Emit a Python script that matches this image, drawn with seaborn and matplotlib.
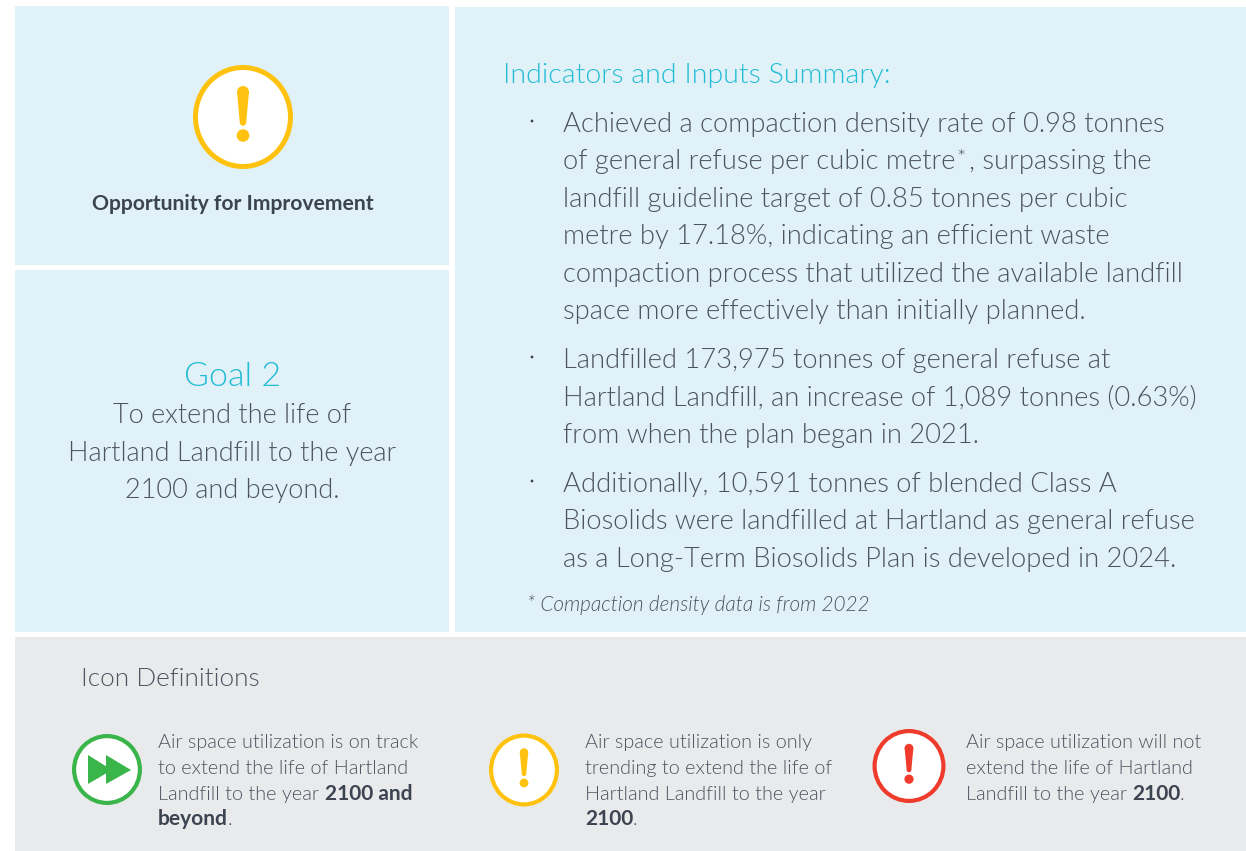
# %%
import matplotlib
matplotlib.use("Agg")
import matplotlib.pyplot as plt
import seaborn as sns
from matplotlib.patches import Rectangle, Circle, Polygon, Ellipse

# %%
# text of the page
summary_title = "Indicators and Inputs Summary:"
bullet_1 = ["Achieved a compaction density rate of 0.98 tonnes",
            "of general refuse per cubic metre",
            "landfill guideline target of 0.85 tonnes per cubic",
            "metre by 17.18%, indicating an efficient waste",
            "compaction process that utilized the available landfill",
            "space more effectively than initially planned."]
bullet_2 = ["Landfilled 173,975 tonnes of general refuse at",
            "Hartland Landfill, an increase of 1,089 tonnes (0.63%)",
            "from when the plan began in 2021."]
bullet_3 = ["Additionally, 10,591 tonnes of blended Class A",
            "Biosolids were landfilled at Hartland as general refuse",
            "as a Long-Term Biosolids Plan is developed in 2024."]
goal_lines = ["To extend the life of", "Hartland Landfill to the year", "2100 and beyond."]

BLUE = "#e0f2f7"
GREY = "#e9eaec"
TEAL = "#22bcd6"
DARK = "#3d4451"
TXT = "#4d5360"
YEL = "#ffc20e"
GRN = "#39b54a"
RED = "#ef3b2c"

# %%
sns.set_theme(style="white")
plt.rcParams["font.family"] = ["Lato", "DejaVu Sans"]

fig = plt.figure(figsize=(12.46, 8.51), dpi=100, facecolor="white")
ax = fig.add_axes([0, 0, 1, 1])
ax.set_xlim(0, 1246)
ax.set_ylim(851, 0)
ax.axis("off")

# background panels
for x0, y0, x1, y1, c in [(15, 6, 449, 264.5, BLUE), (15, 270, 449, 632, BLUE),
                          (455, 7, 1246, 632, BLUE), (15, 637, 1246, 851, GREY)]:
    ax.add_patch(Rectangle((x0, y0), x1 - x0, y1 - y0, fc=c, ec="none"))


def txt(x, y, s, size, color=TXT, weight=300, **kw):
    return ax.text(x, y, s, fontsize=size, color=color, fontweight=weight, va="baseline", **kw)


def ring(cx, cy, w, h, color, lw):
    # w and h are the outer size in pixels, lw in points
    d = lw / 0.72
    ax.add_patch(Ellipse((cx, cy), w - d, h - d, fc="white", ec=color, lw=lw))


def bang(cx, cy, w, h, color, lw):
    ring(cx, cy, w, h, color, lw)
    k = w / 100
    ky = h / 104
    s = 6 * k
    ax.add_patch(Polygon([(cx - s, cy - 25 * ky), (cx + s, cy - 25 * ky),
                          (cx + 3.2 * k, cy + 5.5 * ky), (cx - 3.2 * k, cy + 5.5 * ky)],
                         fc=color, ec="none"))
    ax.add_patch(Ellipse((cx, cy - 25 * ky), 2 * s, 2 * s, fc=color, ec="none"))
    ax.add_patch(Ellipse((cx, cy + 5.5 * ky), 6.4 * k, 6.4 * k, fc=color, ec="none"))
    ax.add_patch(Ellipse((cx, cy + 18.5 * ky), 12.6 * k, 12.6 * k, fc=color, ec="none"))


# top left panel
bang(243, 117, 100, 104, YEL, 3.6)
txt(232.5, 210, "Opportunity for Improvement", 15.2, color=DARK, weight="bold", ha="center")

# goal panel
txt(232.5, 386, "Goal 2", 24.5, color=TEAL, ha="center")
for y, s in zip([423, 461, 498], goal_lines):
    txt(232.5, y, s, 19.5, ha="center")

# summary
txt(503, 83, summary_title, 20.5, color=TEAL)
BODY = 19.7
for yb in [127, 363, 487]:
    ax.add_patch(Circle((532, yb - 6), 1.4, fc=DARK, ec="none"))
for y, s in zip([132, 169, 207, 244, 282, 319], bullet_1):
    t = txt(563, y, s, BODY)
    if y == 169:
        # the * sits raised after metre
        x1 = t.get_window_extent(fig.canvas.get_renderer()).x1
        txt(x1 + 1, 165, "*", 16)
        txt(x1 + 14, 169, ", surpassing the", BODY)
for y, s in zip([368, 405, 443], bullet_2):
    txt(563, y, s, BODY)
for y, s in zip([492, 529, 567], bullet_3):
    txt(563, y, s, BODY)
txt(527, 611, "* Compaction density data is from 2022", 14.95, style="italic")

# icon definitions
txt(81, 686, "Icon Definitions", 18.8)
FS = 14.3
BOLD = 15

ring(107, 769.5, 70, 71, GRN, 3)
ax.add_patch(Polygon([(88, 755), (88, 784), (112, 770)], fc=GRN, ec="none"))
ax.add_patch(Polygon([(106, 755), (106, 784), (131, 770)], fc=GRN, ec="none"))
for y, s in zip([748, 774], ["Air space utilization is on track", "to extend the life of Hartland"]):
    txt(158, y, s, FS)
txt(158, 800, "Landfill to the year", FS)
txt(325, 800, "2100 and", BOLD, color=DARK, weight="bold")
txt(158, 825, "beyond", BOLD, color=DARK, weight="bold")
txt(228, 825, ".", FS)

bang(524, 770, 70, 73, YEL, 3)
for y, s in zip([748, 774, 800], ["Air space utilization is only", "trending to extend the life of",
                                  "Hartland Landfill to the year"]):
    txt(585, y, s, FS)
txt(585, 825, "2100", BOLD, color=DARK, weight="bold")
txt(633, 825, ".", FS)

bang(909, 766, 73, 74, RED, 3)
for y, s in zip([748, 774], ["Air space utilization will not", "extend the life of Hartland"]):
    txt(966, y, s, FS)
txt(966, 800, "Landfill to the year", FS)
txt(1132, 800, "2100", BOLD, color=DARK, weight="bold")
txt(1180, 800, ".", FS)

fig.savefig("out.png", dpi=100)
